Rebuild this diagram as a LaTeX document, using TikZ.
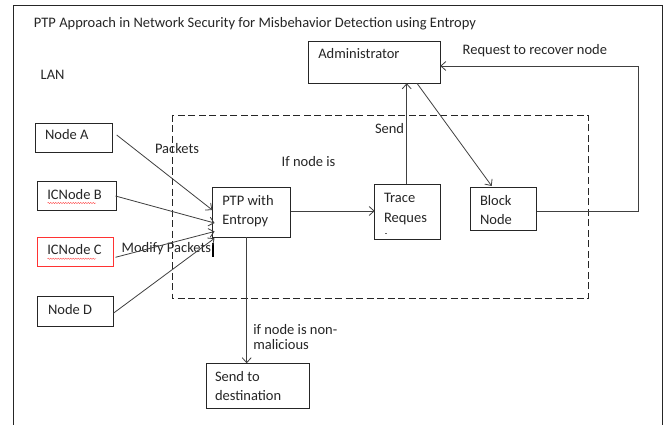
\documentclass[tikz,border=0pt]{standalone}
\usepackage{fontspec}
\setmainfont{Carlito}
\usetikzlibrary{arrows.meta,calc,decorations.pathmorphing}
\begin{document}
\begin{tikzpicture}[x=1pt,y=-1pt,
  box/.style={draw=black!85,line width=0.9pt,anchor=north west,inner sep=0,outer sep=0},
  lbl/.style={anchor=base west,inner sep=0,outer sep=0,text=black!85,font=\fontsize{14.5}{17}\selectfont},
  arr/.style={draw=black!75,line width=0.8pt,-{Straight Barb[length=5pt,width=9pt]}},
  ln/.style={draw=black!75,line width=0.8pt},
  squig/.style={draw=red!75,line width=0.4pt,decorate,decoration={snake,amplitude=0.6pt,segment length=2.5pt}}]
\useasboundingbox (0,0) rectangle (664,425);
\fill[white] (0,0) rectangle (664,425);

% outer frame (open at the bottom)
\draw[black!85,line width=1pt] (13,425) -- (13,6) -- (662,6) -- (662,425);

% LAN region
\draw[black!85,line width=0.9pt,dash pattern=on 7pt off 3.5pt] (172,115) rectangle (588,298.5);

% boxes
\node[box,minimum width=77.7pt,minimum height=29.4pt] (na) at (35,123.3) {};
\node[box,minimum width=79pt,minimum height=29pt] (nb) at (37.7,181.7) {};
\node[box,draw=red!80,minimum width=75.6pt,minimum height=29pt] (nc) at (37.7,237) {};
\node[box,minimum width=75.6pt,minimum height=29.3pt] (nd) at (37.7,296.7) {};
\node[box,minimum width=78.4pt,minimum height=49.6pt] (ptp) at (212.3,187.7) {};
\node[box,minimum width=66pt,minimum height=54.7pt] (trc) at (374.7,184.3) {};
\node[box,minimum width=66.7pt,minimum height=43.7pt] (blk) at (470,187) {};
\node[box,minimum width=132pt,minimum height=42pt] (adm) at (308.3,41.3) {};
\node[box,minimum width=103pt,minimum height=45pt] (dst) at (206,363.3) {};

% texts
\node[lbl] (title) at (34,27.5) {PTP Approach in Network Security for Misbehavior Detection using Entropy};
\node[lbl] (lan) at (40.7,79.5) {LAN};
\node[lbl] (tadm) at (318.3,59) {Administrator};
\node[lbl] (treq) at (462.7,55) {Request to recover node};
\node[lbl] (tsend) at (375,133.5) {Send};
\node[lbl] (tif) at (281.7,166.5) {If node is};
\node[lbl] (tpk) at (155,153.5) {Packets};
\node[lbl] (tmod) at (121.7,252.5) {Modify Packets};
\node[lbl] (tna) at (45,140) {Node A};
\node[lbl] (tnb) at (47.3,199) {ICNode B};
\node[lbl] (tnc) at (47.3,254.7) {ICNode C};
\node[lbl] (tnd) at (48,314) {Node D};
\node[lbl] (tptp1) at (222.3,205) {PTP with};
\node[lbl] (tptp2) at (222.3,224.7) {Entropy};
\node[lbl] (ttr1) at (384,202.7) {Trace};
\node[lbl] (ttr2) at (384,222.3) {Reques};
\node[lbl] (tbl1) at (480,205.7) {Block};
\node[lbl] (tbl2) at (480,224.7) {Node};
\node[lbl] (tds1) at (215,381.7) {Send to};
\node[lbl] (tds2) at (215,400.7) {destination};
\node[lbl] (tnm1) at (253.3,334.7) {if node is non-};
\node[lbl] (tnm2) at (253.3,349) {malicious};

% clipped last letter of the trace box
\draw[black!60,line width=0.6pt] (385,233) -- (386.5,233);

% spell-check underlines
\draw[squig] (47.5,203) -- (96,203);
\draw[squig] (47.5,258.7) -- (96,258.7);

% text cursor mark
\draw[black,line width=1.6pt] (212.8,243) -- (212.8,256.7);

% entry points on the PTP box
\coordinate (pa) at (212.3,210);
\coordinate (pb) at (214.5,223);
\coordinate (pc) at (214.5,231.5);
\coordinate (pd) at (214.5,238.3);
\coordinate (sa) at (116.7,135);
\coordinate (sb) at (115.5,196);
\coordinate (sc) at (115.5,257.3);
\coordinate (sd) at (113.3,313.3);

% connectors
\draw[arr] (sa) -- (pa);
\draw[arr] (sb) -- (pb);
\draw[arr] (sc) -- (pc);
\draw[arr] (sd) -- (pd);
\draw[arr] (ptp.east |- 0,211) -- (trc.west |- 0,211);
\draw[arr] (trc.north -| 406.7,0) -- (adm.south -| 406.7,0);
\coordinate (ao) at (417,83.3);
\coordinate (bi) at (491.7,186);
\draw[arr] (ao) -- (bi);
\coordinate (rc1) at (638,211);
\coordinate (rc2) at (638,66);
\draw[ln] (blk.east |- rc1) -- (rc1) -- (rc2);
\draw[arr] (rc2) -- (adm.east |- rc2);
\coordinate (pbot) at (246.7,237.3);
\draw[arr] (pbot) -- (dst.north -| pbot);
\end{tikzpicture}
\end{document}
